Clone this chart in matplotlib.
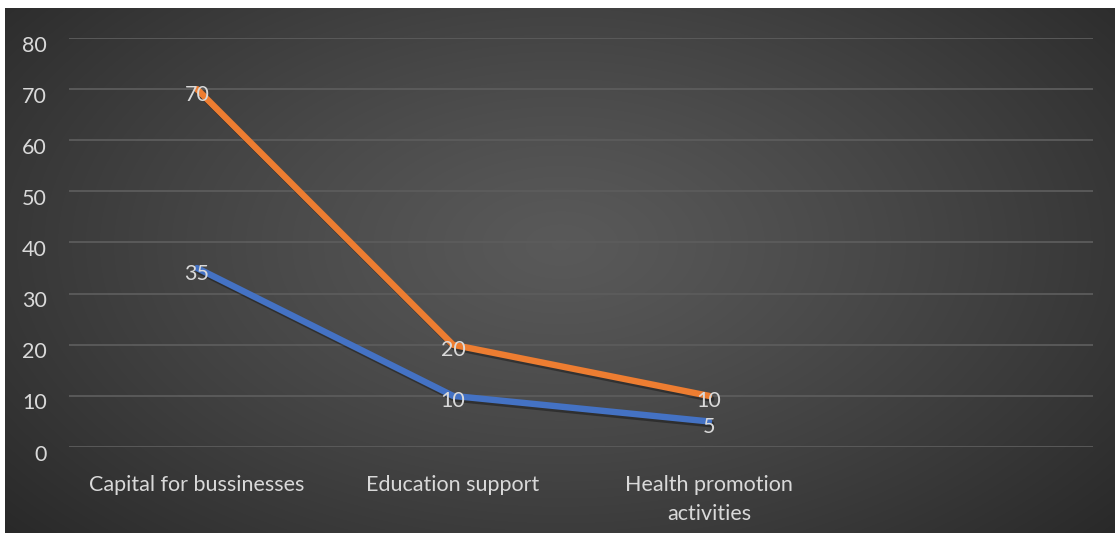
import numpy as np
import matplotlib
matplotlib.use("Agg")
import matplotlib.pyplot as plt
import matplotlib.patheffects as pe
from matplotlib.transforms import ScaledTranslation

categories = ["Capital for bussinesses", "Education support",
              "Health promotion\nactivities", ""]
series_blue = [35, 10, 5]
series_orange = [70, 20, 10]
yticks = list(range(0, 90, 10))

TEXT = "#d9d9d9"
FS = 15.5
plt.rcParams["font.family"] = ["Lato", "DejaVu Sans"]

W, H, DPI = 1115, 534, 100
fig = plt.figure(figsize=(W / DPI, H / DPI), dpi=DPI, facecolor="white")

# dark chart area with a soft radial highlight in the middle
bg = fig.add_axes([5 / W, 1 / H, (W - 5) / W, (H - 9) / H])
bg.set_axis_off()
yy, xx = np.mgrid[0:300, 0:600]
cx, cy = 300, 135
r = np.sqrt(((xx - cx) / 420.0) ** 2 + ((yy - cy) / 260.0) ** 2)
r = np.clip(r, 0, 1)
shade = 0.35 - (0.35 - 0.15) * r ** 1.2
bg.imshow(np.dstack([shade, shade, shade]), aspect="auto",
          interpolation="bilinear", extent=(0, 1, 0, 1))

ax = fig.add_axes([69 / W, (H - 447) / H, 1024 / W, 409 / H])
ax.patch.set_alpha(0)
x = np.arange(len(series_blue))

shadow = [pe.SimpleLineShadow(offset=(1.5, -2), alpha=0.35, shadow_color="black"),
          pe.Normal()]
ax.plot(x, series_blue, color="#4472c4", lw=4.6, solid_capstyle="round",
        solid_joinstyle="round", path_effects=shadow, zorder=3)
ax.plot(x, series_orange, color="#ed7d31", lw=4.6, solid_capstyle="round",
        solid_joinstyle="round", path_effects=shadow, zorder=3)

for xi, v in zip(x, series_blue):
    ax.annotate(str(v), (xi, v), xytext=(0, -4), textcoords="offset points",
                ha="center", va="center", color=TEXT, fontsize=FS, zorder=5)
for xi, v in zip(x, series_orange):
    ax.annotate(str(v), (xi, v), xytext=(0, -4), textcoords="offset points",
                ha="center", va="center", color=TEXT, fontsize=FS, zorder=5)

ax.set_xlim(-0.5, len(categories) - 0.5)
ax.set_ylim(0, 80)
ax.set_yticks(yticks)
ax.set_xticks(range(len(categories)))
ax.set_xticklabels(categories, color=TEXT, fontsize=FS, linespacing=1.55)
ax.tick_params(axis="y", length=0, pad=16, labelcolor=TEXT, labelsize=FS)
ax.tick_params(axis="x", length=0, pad=20)
for lab in ax.get_yticklabels():
    lab.set_transform(lab.get_transform() +
                      ScaledTranslation(0, -4 / 72, fig.dpi_scale_trans))
ax.grid(axis="y", color="#5c5c5c", lw=1.3, zorder=1)
for s in ax.spines.values():
    s.set_visible(False)

fig.savefig("out.png", dpi=DPI, facecolor="white")
